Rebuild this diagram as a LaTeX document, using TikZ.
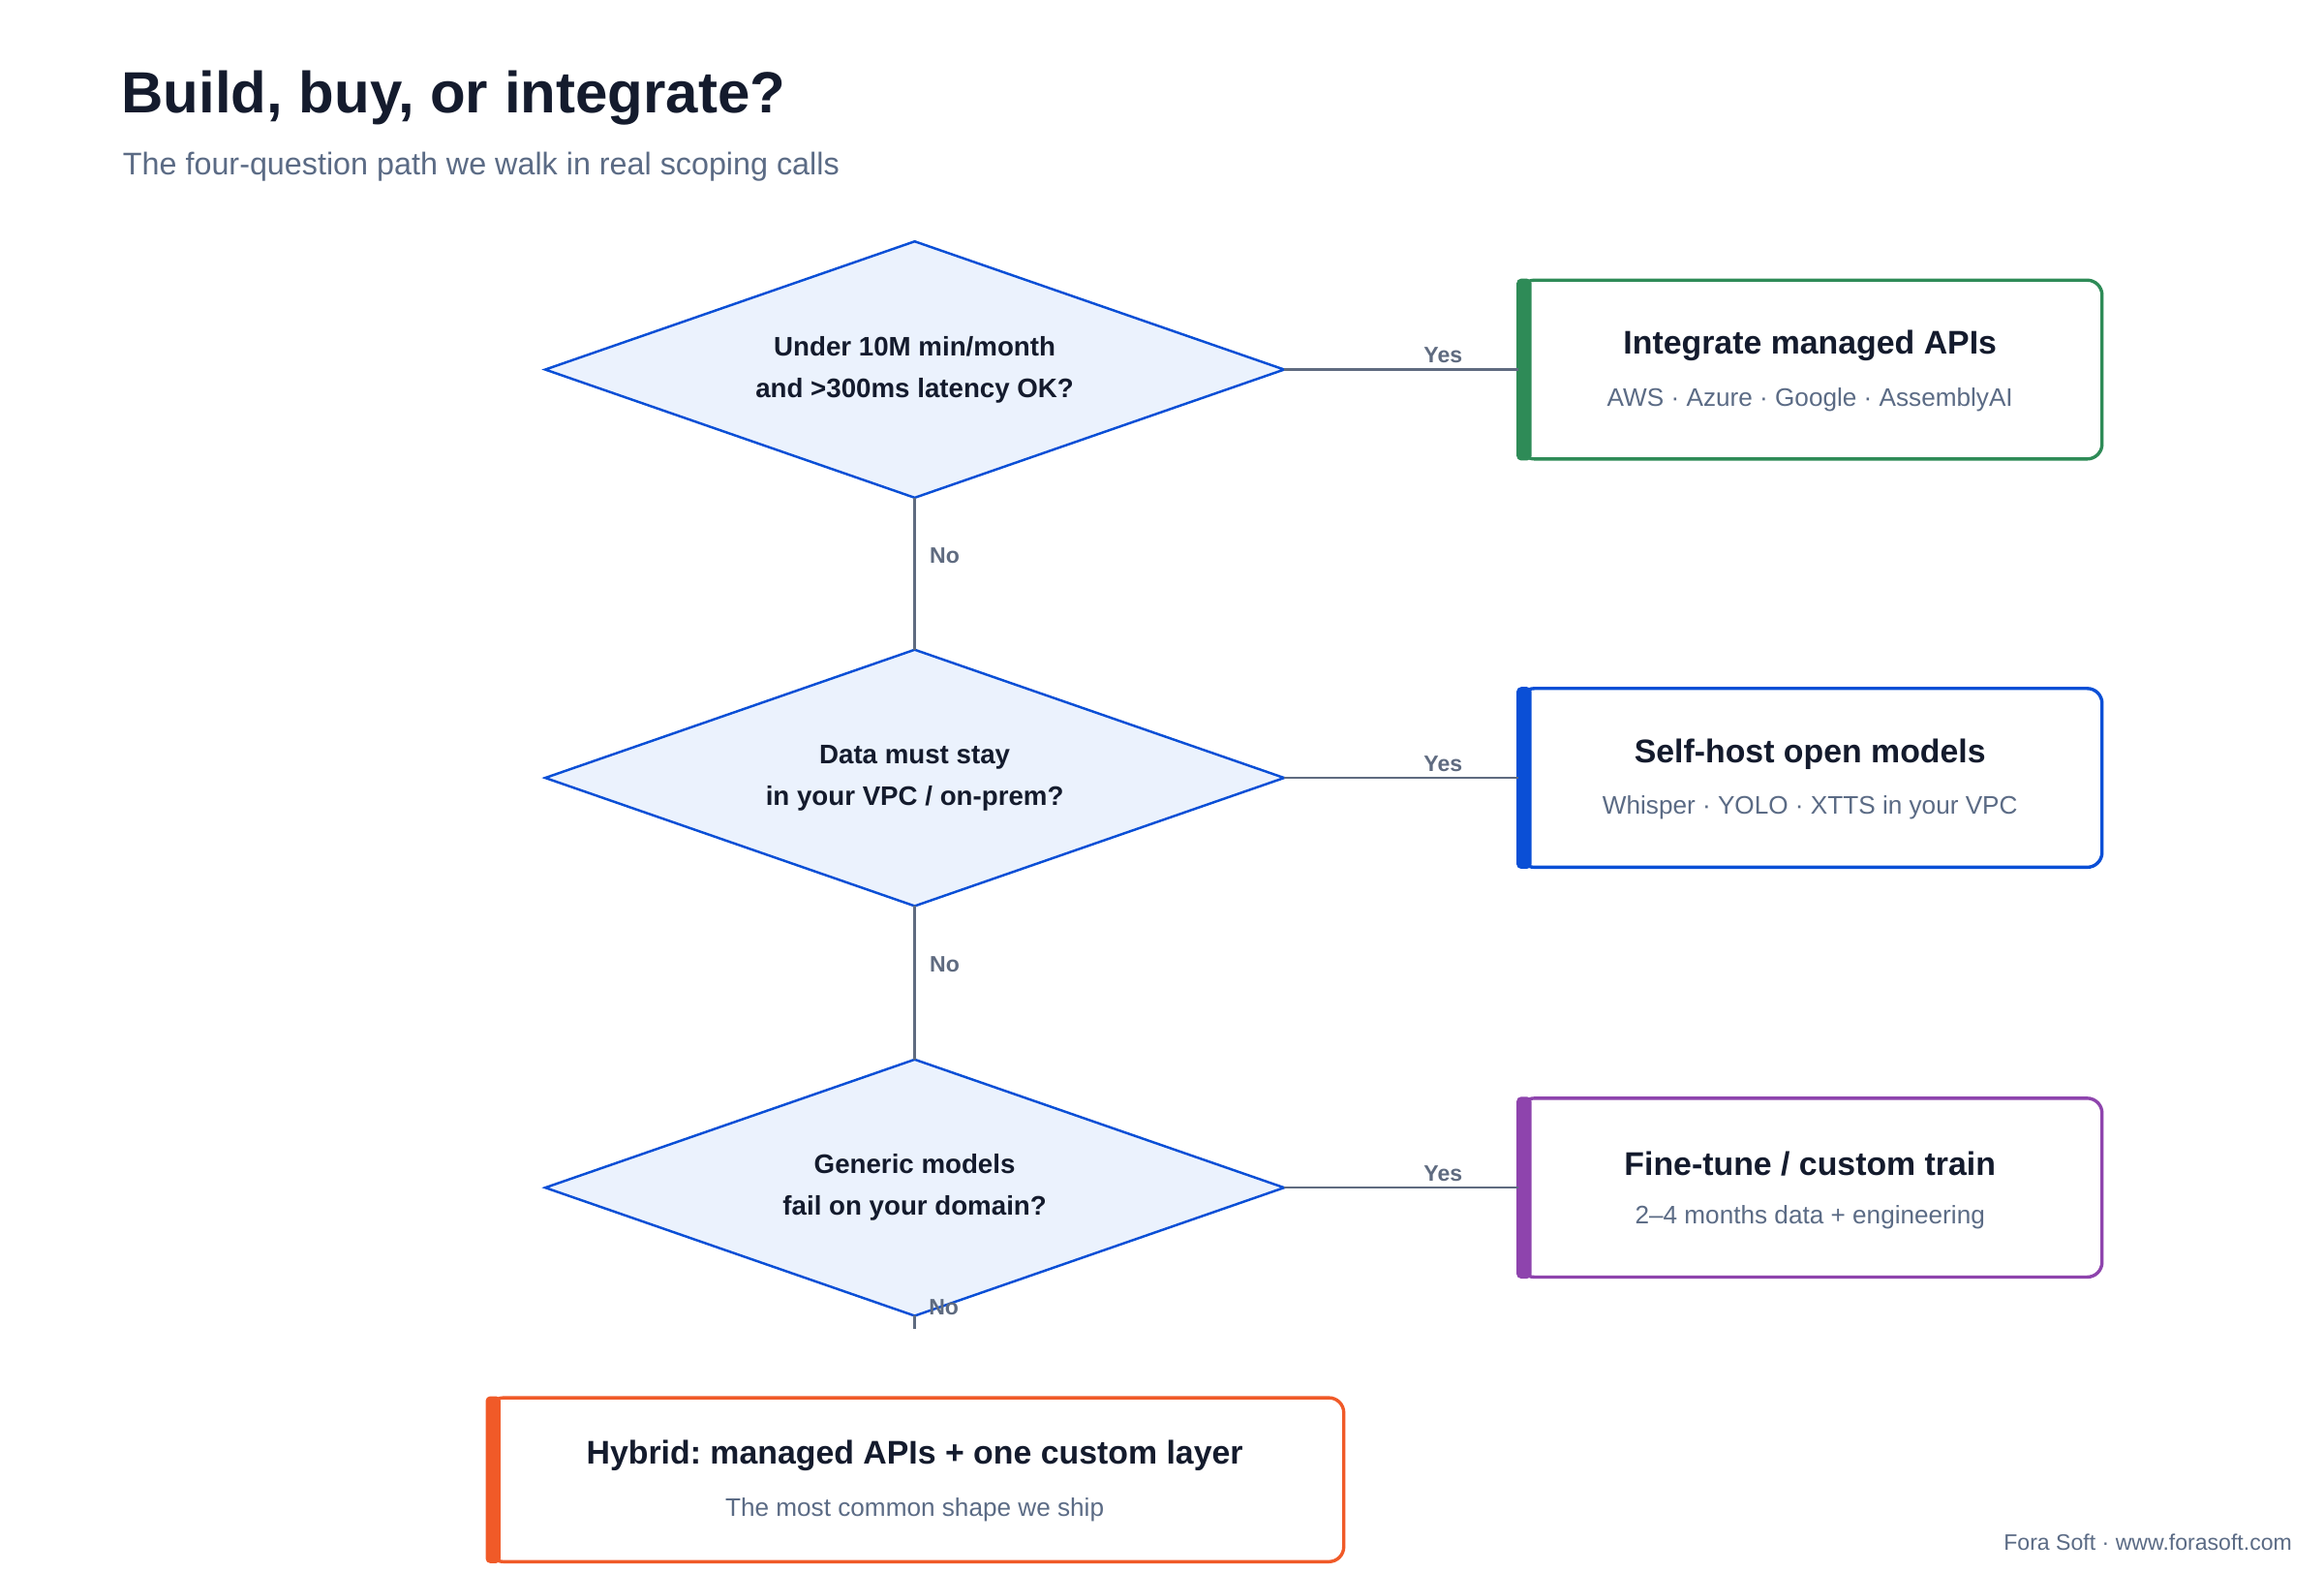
\documentclass[tikz,border=0pt]{standalone}
\usepackage{fontspec}
\setmainfont{Liberation Sans}
\frenchspacing
\definecolor{ink}{HTML}{141B2D}
\definecolor{muted}{HTML}{5B6B85}
\definecolor{conn}{HTML}{5F6B80}
\definecolor{dblue}{HTML}{0A4FD6}
\definecolor{dfill}{HTML}{EBF2FD}
\definecolor{cgreen}{HTML}{2E8B57}
\definecolor{cpurple}{HTML}{8E44AD}
\definecolor{corange}{HTML}{F05A28}
\tikzset{
  dshape/.style={draw=dblue, fill=dfill, line width=1.6pt},
  dtext/.style={text=ink, align=center, font=\fontsize{18}{28}\selectfont\bfseries},
  res/.style={draw=#1, line width=2.2pt, rounded corners=10pt, minimum width=391pt, minimum height=120pt, fill=white},
  ttl/.style={text=ink, font=\fontsize{22}{26}\selectfont\bfseries},
  sub/.style={text=muted, font=\fontsize{17}{20}\selectfont},
  ln/.style={draw=conn, line width=1.6pt},
  lab/.style={text=conn, font=\fontsize{15}{18}\selectfont\bfseries},
}
\newcommand{\decision}[3]{%
  \draw[dshape] (366,#2) -- (614,#2-86) -- (862,#2) -- (614,#2+86) -- cycle;
  \node[dtext] (#1) at (614,#2) {#3};
  \coordinate (#1n) at (614,#2-86);
  \coordinate (#1s) at (614,#2+86);
  \coordinate (#1e) at (862,#2);
}
\begin{document}
\begin{tikzpicture}[x=1pt,y=-1pt]
\useasboundingbox (0,0) rectangle (1560,1055);
\fill[white] (0,0) rectangle (1560,1055);
\node[anchor=base west, text=ink, font=\fontsize{39}{44}\selectfont\bfseries] (title) at (78,76) {Build, buy, or integrate?};
\node[anchor=base west, text=muted, font=\fontsize{21}{24}\selectfont] (subtitle) at (79,117) {The four-question path we walk in real scoping calls};

\decision{d1}{248}{Under 10M min/month\\and >300ms latency OK?}
\decision{d2}{522}{Data must stay\\in your VPC / on-prem?}
\decision{d3}{797}{Generic models\\fail on your domain?}

\draw[ln] (d1s) -- node[lab, right, xshift=6pt, pos=0.38]{No} (d2n);
\draw[ln] (d2s) -- node[lab, right, xshift=6pt, pos=0.38]{No} (d3n);
\coordinate (e3) at (614,892);
\draw[ln] (d3s) -- (e3);
\node[lab, right, xshift=6pt] (no3) at (614,877) {No};

\foreach \n/\c/\y/\t/\s in {r1/cgreen/248/{Integrate managed APIs}/{AWS · Azure · Google · AssemblyAI},
                            r2/dblue/522/{Self-host open models}/{Whisper · YOLO · XTTS in your VPC},
                            r3/cpurple/797/{Fine-tune / custom train}/{2–4 months data + engineering}}{
  \node[res=\c] (\n) at (1215.5,\y) {};
  \fill[\c, rounded corners=3pt] (1018,\y-61) rectangle (1028,\y+61);
  \node[ttl] at (1215,\y-16) {\t};
  \node[sub] at (1215,\y+20) {\s};
}
\draw[ln] (d1e) -- node[lab, above, pos=0.68]{Yes} (r1.west);
\draw[ln] (d2e) -- node[lab, above, pos=0.68]{Yes} (r2.west);
\draw[ln] (d3e) -- node[lab, above, pos=0.68]{Yes} (r3.west);

\node[res=corange, minimum width=574pt, minimum height=110pt] (r4) at (615,993) {};
\fill[corange, rounded corners=3pt] (326,937) rectangle (336,1049);
\node[ttl] at (614,977) {Hybrid: managed APIs + one custom layer};
\node[sub] at (614,1013) {The most common shape we ship};

\node[anchor=base east, text=muted, font=\fontsize{15}{18}\selectfont] (foot) at (1542,1040) {Fora Soft · www.forasoft.com};
\end{tikzpicture}
\end{document}
